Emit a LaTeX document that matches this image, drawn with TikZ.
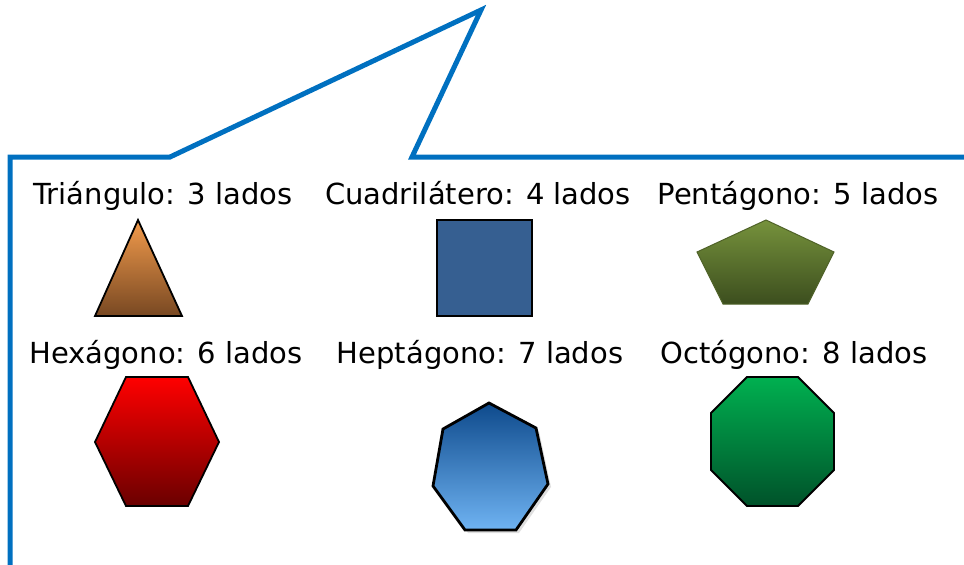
\documentclass[tikz,border=0pt]{standalone}
\usepackage{fontspec}
\setmainfont{DejaVu Sans}
\usetikzlibrary{shadows}
\definecolor{bubbleblue}{HTML}{0070C0}
\definecolor{orangetop}{HTML}{F29B4C}
\definecolor{orangebot}{HTML}{784822}
\definecolor{squareblue}{HTML}{365F91}
\definecolor{olivetop}{HTML}{76923C}
\definecolor{olivebot}{HTML}{3C4E1E}
\definecolor{oliveline}{HTML}{4F6228}
\definecolor{redbot}{HTML}{6A0000}
\definecolor{bluetop}{HTML}{0E4A8C}
\definecolor{bluebot}{HTML}{6FB3F2}
\definecolor{greentop}{HTML}{00B050}
\definecolor{greenbot}{HTML}{00522A}
\tikzset{
	lado/.style={anchor=base,font=\fontsize{29}{33}\selectfont},
	figura/.style={draw=black,line width=1.8pt,line join=miter}
}
\begin{document}
\begin{tikzpicture}[x=1pt,y=-1pt]
			\useasboundingbox (0,0) rectangle (964,565);
			% bocadillo
			\draw [bubbleblue,line width=5pt,line join=miter] (10,575) -- (10,157) -- (170,157) -- (481,10) -- (412,157) -- (975,157);
			% textos
			\node [lado] (t3) at (163,204) {Triángulo: 3 lados};
			\node [lado] (t4) at (478,204) {Cuadrilátero: 4 lados};
			\node [lado] (t5) at (798,204) {Pentágono: 5 lados};
			\node [lado] (t6) at (166,363) {Hexágono: 6 lados};
			\node [lado] (t7) at (480,363) {Heptágono: 7 lados};
			\node [lado] (t8) at (794,363) {Octógono: 8 lados};
			% figuras
			\shade [figura,top color=orangetop,bottom color=orangebot] (138,220) -- (182,316) -- (95,316) -- cycle;
			\filldraw [figura,fill=squareblue] (437,220) rectangle (532,316);
			\shade [figura,draw=oliveline,line width=1pt,top color=olivetop,bottom color=olivebot] (766,220) -- (834,252) -- (808,304) -- (723,304) -- (697,252) -- cycle;
			\shade [figura,top color=red,bottom color=redbot] (126,377) -- (188,377) -- (219,442) -- (188,506) -- (126,506) -- (95,442) -- cycle;
			\shade [figura,line width=2.8pt,top color=bluetop,bottom color=bluebot,drop shadow={opacity=0.25,shadow xshift=3pt,shadow yshift=-3pt}] (489,403) -- (536,428) -- (548,484) -- (516,530) -- (465,530) -- (433,486) -- (443,429) -- cycle;
			\shade [figura,top color=greentop,bottom color=greenbot] (747,377) -- (798,377) -- (834,413) -- (834,470) -- (798,506) -- (747,506) -- (711,470) -- (711,413) -- cycle;
		\end{tikzpicture}
\end{document}
